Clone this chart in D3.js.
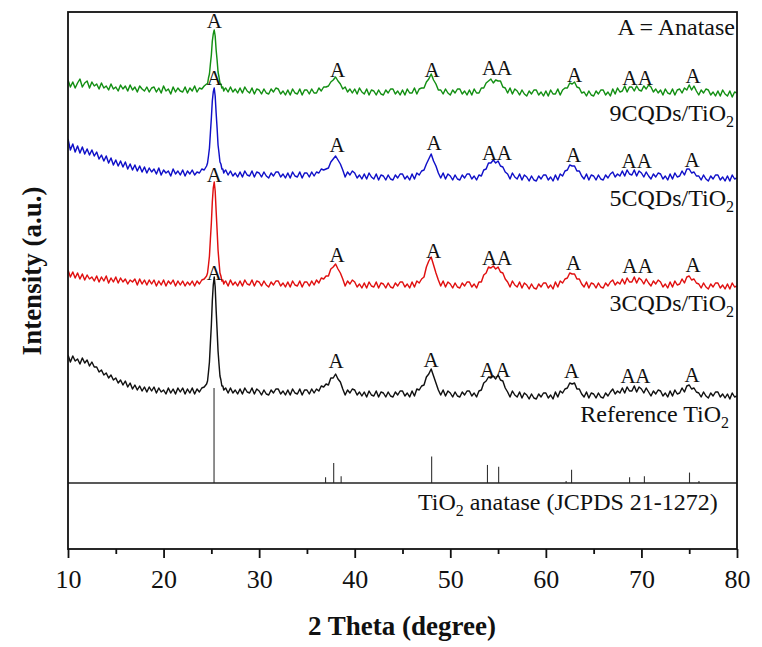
<!DOCTYPE html>
<html><head><meta charset="utf-8">
<script src="https://cdn.jsdelivr.net/npm/d3@7"></script>
<style>body{margin:0;background:#fff} svg{display:block}</style>
</head><body><svg id="c" width="762" height="647"></svg>
<script>
// ---------- DATA ----------
// 2θ scan grid (measurement segments: start, step, count)
const scanSegments = [
  {from: 10.0, step: 0.25, n: 58},
  {from: 24.5, step: 0.1,  n: 20},
  {from: 26.5, step: 0.25, n: 215}
];
const seriesNames = ["Reference TiO2", "3CQDs/TiO2", "5CQDs/TiO2", "9CQDs/TiO2"];

// Intensities (a.u., stacked as plotted)
const refTiO2 = [
194,187,193,188,190,185,191,186,189,183,187,182,
182,177,179,174,176,171,174,169,171,166,169,164,
168,162,166,160,164,159,163,158,162,157,162,158,
162,156,161,157,159,155,161,156,160,155,161,157,
161,155,160,156,161,155,160,157,161,162,
165,168,177,187,206,224,248,264,272,262,239,219,198,185,173,169,163,163,159,160,
161,156,
161,156,159,155, 160,155,161,157, 156,161,155,160, 158,154,159,155, 154,159,156,160,
160,155,158,154, 159,154,160,156, 155,160,154,159, 159,155,160,156, 160,158,163,162,
165,164,171,171, 175,170,167,160, 154,159,156,160, 159,154,157,153, 157,152,158,154,
153,158,152,157, 156,152,157,153, 152,157,154,158, 158,153,156,152, 158,153,160,159,
163,164,172,175, 180,173,166,159, 154,159,153,158, 156,152,157,153, 152,157,154,158,
158,153,156,152, 158,159,166,168, 172,171,173,170, 174,169,168,161, 157,152,158,154,
152,157,151,156, 154,150,155,151, 150,155,152,156, 156,151,154,150, 157,152,158,156,
160,161,166,165, 166,160,160,155, 152,157,151,156, 155,151,156,152, 151,156,153,157,
160,155,158,156, 161,156,162,158, 158,163,157,162, 160,156,161,157, 153,158,155,159,
158,153,156,152, 158,153,159,155, 156,161,157,163, 164,160,161,157, 156,152,157,153,
151,156,153,157, 157,152,155,151, 155,150,156,152,
153
];
const cqd3 = [
279,272,277,271,276,270,275,269,274,270,272,268,
273,267,272,268,273,266,271,267,272,266,271,267,
270,265,269,267,270,264,270,265,269,264,269,265,
269,263,268,264,269,263,268,265,269,263,268,264,
268,263,267,264,268,263,268,265,269,270,
273,276,284,293,310,326,347,361,367,358,338,319,299,287,276,273,268,269,265,267,
268,263,
269,264,267,263, 268,263,269,265, 264,269,263,268, 267,263,268,264, 262,267,264,268,
268,263,266,262, 267,262,268,264, 263,268,262,267, 267,263,268,264, 269,266,271,270,
273,273,280,282, 285,280,276,270, 263,268,265,269, 267,262,265,261, 266,261,267,263,
262,267,261,266, 265,261,266,262, 261,266,263,267, 267,262,265,261, 267,262,268,266,
270,272,282,288, 292,284,276,269, 263,268,262,267, 265,261,266,262, 261,266,263,267,
267,262,265,261, 267,267,274,276, 282,281,283,280, 282,277,276,270, 267,262,268,264,
262,267,261,266, 264,260,265,261, 260,265,262,266, 266,261,264,260, 267,262,268,266,
270,271,276,275, 275,270,270,265, 262,267,261,266, 265,261,266,262, 261,266,263,267,
269,264,267,265, 270,265,271,267, 267,272,266,271, 269,265,270,266, 263,268,265,269,
267,262,265,261, 267,262,268,264, 265,270,266,272, 273,269,270,266, 265,261,266,262,
260,265,262,266, 266,261,264,260, 265,260,266,262,
263
];
const cqd5 = [
410,399,405,397,403,396,402,395,400,394,399,393,
397,390,394,388,393,386,391,384,389,383,388,382,
387,380,385,379,384,378,383,377,382,376,381,377,
380,375,381,374,379,376,378,373,380,375,378,374,
379,373,378,375,379,374,377,376,380,379,
383,386,393,401,416,431,448,457,461,453,436,421,404,396,387,385,380,380,376,378,
379,374,
378,373,376,372, 377,372,378,374, 373,378,372,377, 376,372,377,373, 371,376,373,377,
377,372,375,371, 376,371,377,373, 372,377,371,376, 376,372,377,373, 377,376,380,379,
380,381,387,390, 393,389,385,379, 372,377,374,378, 376,371,374,370, 375,370,376,372,
370,375,369,374, 373,369,374,370, 369,374,371,375, 375,370,373,369, 375,370,376,374,
378,379,385,390, 395,388,383,376, 371,376,370,375, 373,369,374,370, 369,374,371,375,
375,370,373,369, 374,373,379,380, 386,386,389,386, 388,383,382,377, 375,370,376,372,
370,375,369,374, 372,368,373,369, 368,373,370,374, 374,369,372,368, 374,369,375,373,
378,379,384,383, 383,378,378,373, 370,375,369,374, 373,369,374,370, 369,374,371,375,
377,372,375,373, 378,373,379,375, 374,379,373,378, 376,372,377,373, 370,375,372,376,
375,370,373,369, 375,370,376,372, 373,378,374,380, 380,376,377,373, 373,369,374,370,
368,373,370,374, 374,369,372,368, 373,368,374,370,
371
];
const cqd9 = [
469,462,467,461,466,470,462,466,468,461,467,463,
465,460,466,461,463,459,465,460,462,458,464,460,
463,458,464,459,462,457,463,460,458,462,457,461,
462,457,461,456,463,458,460,455,462,457,461,458,
457,462,456,461,458,463,457,461,460,463,
465,465,471,475,485,494,508,515,519,513,499,489,477,472,466,465,461,462,458,460,
461,457,
462,457,460,456, 461,456,462,458, 456,461,455,460, 459,455,460,456, 455,460,457,461,
460,455,458,454, 459,454,460,456, 455,460,454,459, 459,455,460,456, 456,461,458,462,
462,463,467,469, 472,468,465,460, 462,457,460,456, 460,455,461,457, 455,460,454,459,
458,454,459,455, 454,459,456,460, 460,455,458,454, 459,454,460,456, 456,461,455,460,
461,461,467,470, 475,469,465,459, 459,455,460,456, 454,459,456,460, 460,455,458,454,
459,454,460,456, 456,461,461,466, 468,470,466,469, 468,468,462,461, 456,461,455,460,
458,454,459,455, 453,458,455,459, 459,454,457,453, 458,453,459,455, 455,460,454,459,
461,461,466,465, 467,462,461,456, 457,453,458,454, 453,458,455,459, 459,454,457,453,
460,455,461,457, 458,463,457,462, 462,458,463,459, 458,463,460,464, 462,457,460,456,
459,454,460,456, 455,460,454,459, 460,456,461,459, 464,459,463,458, 454,459,456,460,
459,454,457,453, 458,453,459,455, 453,458,452,457,
456
];

// JCPDS 21-1272 anatase reference pattern (2θ, relative intensity %)
const refAngles    = [25.28, 36.95, 37.80, 38.58, 48.05, 53.89, 55.06, 62.12, 62.69, 68.76, 70.31, 75.03, 76.02];
const refIntensity = [100,   6,     21,    7,     28,    19,    17,    2,     14,    6,     7,     11,    2];
const refBaseline = 66;      // a.u. level of the reference-pattern baseline
const refScale = 0.95;       // a.u. per % intensity

// "A" peak markers: 2θ and a.u. level for each pattern
const markAngles = {
  "9CQDs/TiO2":     [25.3, 38.2, 48.1, 54.1, 55.65, 63.0, 68.8, 70.4, 75.4],
  "5CQDs/TiO2":     [25.3, 38.15, 48.3, 54.1, 55.65, 62.9, 68.7, 70.3, 75.3],
  "3CQDs/TiO2":     [25.3, 38.15, 48.25, 54.1, 55.65, 62.9, 68.8, 70.4, 75.4],
  "Reference TiO2": [25.3, 38.05, 48.0, 53.9, 55.5, 62.7, 68.6, 70.15, 75.3]
};
const markLevels = {
  "9CQDs/TiO2":     [521, 472, 472, 474, 474, 467, 464, 464, 466],
  "5CQDs/TiO2":     [464, 397, 399, 389, 389, 387, 381, 381, 382],
  "3CQDs/TiO2":     [367, 287, 291, 284, 284, 279, 276, 276, 277],
  "Reference TiO2": [269, 181, 182, 172, 172, 171, 166, 166, 167]
};
const xTicks = [10, 20, 30, 40, 50, 60, 70, 80];
const xMinorTicks = [15, 25, 35, 45, 55, 65, 75];

// ---------- CHART ----------
const serif = "'Liberation Serif','Times New Roman',serif";
const m = {l: 68, r: 737, t: 12, b: 549};
const x = d3.scaleLinear().domain([10, 80]).range([m.l, m.r]);
const y = d3.scaleLinear().domain([0, 537]).range([m.b, m.t]);
const svg = d3.select("#c");

const angles = scanSegments.flatMap(s => d3.range(s.n).map(i => +(s.from + s.step * i).toFixed(3)));
const seriesValues = {"Reference TiO2": refTiO2, "3CQDs/TiO2": cqd3, "5CQDs/TiO2": cqd5, "9CQDs/TiO2": cqd9};
const colors = {"Reference TiO2": "#111111", "3CQDs/TiO2": "#e01010", "5CQDs/TiO2": "#1010c8", "9CQDs/TiO2": "#138f13"};

svg.append("defs").append("clipPath").attr("id", "clip")
  .append("rect").attr("x", m.l).attr("y", m.t).attr("width", m.r - m.l).attr("height", m.b - m.t);

const plot = svg.append("g").attr("clip-path", "url(#clip)");
const line = d3.line().x(d => x(d[0])).y(d => y(d[1]));
seriesNames.forEach(name => {
  const vals = seriesValues[name];
  const pts = angles.slice(0, vals.length).map((a, i) => [a, vals[i]]);
  plot.append("path").datum(pts)
    .attr("fill", "none").attr("stroke", colors[name]).attr("stroke-width", 1.45)
    .attr("stroke-linejoin", "round").attr("d", line);
});

// reference sticks
plot.selectAll("line.stick").data(refAngles.map((a, i) => [a, refIntensity[i]])).join("line")
  .attr("class", "stick")
  .attr("x1", d => x(d[0])).attr("x2", d => x(d[0]))
  .attr("y1", y(refBaseline)).attr("y2", d => y(refBaseline + d[1] * refScale))
  .attr("stroke", "#333").attr("stroke-width", 1.1);
svg.append("line").attr("x1", x(10)).attr("x2", x(80))
  .attr("y1", y(refBaseline)).attr("y2", y(refBaseline))
  .attr("stroke", "#222").attr("stroke-width", 1.3);

// "A" markers
seriesNames.forEach(name => {
  markAngles[name].forEach((a, i) => {
    svg.append("text").attr("x", x(a)).attr("y", y(markLevels[name][i]))
      .attr("text-anchor", "middle").attr("font-family", serif).attr("font-size", 21)
      .attr("fill", "#111").text("A");
  });
});

// text labels with subscripts
function label(px, py, parts, anchor) {
  const t = svg.append("text").attr("x", px).attr("y", py).attr("text-anchor", anchor)
    .attr("font-family", serif).attr("font-size", 24).attr("fill", "#111");
  parts.forEach(p => {
    if (p.sub) t.append("tspan").attr("font-size", 16).attr("dy", 6).text(p.s);
    else t.append("tspan").attr("dy", p.after ? -6 : 0).text(p.s);
  });
}
label(735, y(514), [{s: "A = Anatase"}], "end");
label(734, y(428), [{s: "9CQDs/TiO"}, {s: "2", sub: true}], "end");
label(734, y(343), [{s: "5CQDs/TiO"}, {s: "2", sub: true}], "end");
label(734, y(238), [{s: "3CQDs/TiO"}, {s: "2", sub: true}], "end");
label(729, y(127.5), [{s: "Reference TiO"}, {s: "2", sub: true}], "end");
label(418, y(39), [{s: "TiO"}, {s: "2", sub: true}, {s: " anatase (JCPDS 21-1272)", after: true}], "start");

// axes
const ax = svg.append("g").attr("transform", `translate(0,${m.b})`)
  .call(d3.axisBottom(x).tickValues(xTicks).tickSize(9).tickFormat(d3.format("d")));
ax.select(".domain").remove();
ax.selectAll(".tick line").attr("stroke", "#111").attr("stroke-width", 1.8);
ax.selectAll(".tick text").attr("y", 39).attr("dy", 0)
  .attr("font-family", serif).attr("font-size", 26).attr("fill", "#111");
const axm = svg.append("g").attr("transform", `translate(0,${m.b})`)
  .call(d3.axisBottom(x).tickValues(xMinorTicks).tickSize(5).tickFormat(""));
axm.select(".domain").remove();
axm.selectAll(".tick line").attr("stroke", "#111").attr("stroke-width", 1.8);

svg.append("rect").attr("x", m.l).attr("y", m.t).attr("width", m.r - m.l).attr("height", m.b - m.t)
  .attr("fill", "none").attr("stroke", "#111").attr("stroke-width", 1.8);

svg.append("text").attr("x", 402).attr("y", 635).attr("text-anchor", "middle")
  .attr("font-family", serif).attr("font-weight", "bold").attr("font-size", 27).attr("fill", "#111")
  .text("2 Theta (degree)");
svg.append("text").attr("transform", "translate(41,271) rotate(-90)").attr("text-anchor", "middle")
  .attr("font-family", serif).attr("font-weight", "bold").attr("font-size", 27).attr("fill", "#111")
  .text("Intensity (a.u.)");
</script></body></html>
